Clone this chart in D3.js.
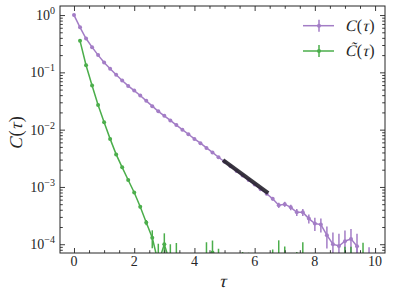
<!DOCTYPE html>
<html>
<head>
<meta charset="utf-8">
<script src="https://cdn.jsdelivr.net/npm/d3@7"></script>
<style>
  body { margin: 0; background: #fff; }
  svg { display: block; }
</style>
</head>
<body>
<svg id="chart" width="396" height="296"></svg>
<script>
// C(tau), sampled every 0.2
const tauC = [0, 0.2, 0.4, 0.6, 0.8, 1.0, 1.2, 1.4, 1.6, 1.8, 2.0, 2.2, 2.4, 2.6, 2.8, 3.0, 3.2, 3.4, 3.6, 3.8,
  4.0, 4.2, 4.4, 4.6, 4.8, 5.0, 5.2, 5.4, 5.6, 5.8, 6.0, 6.2, 6.4, 6.6, 6.8, 7.0, 7.2, 7.4, 7.6, 7.8,
  8.0, 8.2, 8.4, 8.6, 8.8, 9.0, 9.2, 9.4, 9.6, 9.8];
const valC = [1.0, 0.61, 0.39, 0.275, 0.20, 0.148, 0.116, 0.091, 0.072, 0.058, 0.048, 0.0395, 0.0318, 0.0257,
  0.0209, 0.0174, 0.0145, 0.0120, 0.0100, 0.0083, 0.0069, 0.0058, 0.0048, 0.0040, 0.0033, 0.00275, 0.00229,
  0.00190, 0.00158, 0.00132, 0.00110, 0.00091, 0.00076, 6.2e-4, 4.8e-4, 5.0e-4, 4.4e-4, 3.6e-4, 3.6e-4,
  2.8e-4, 2.3e-4, 2.2e-4, 1.44e-4, 1.0e-4, 9.3e-5, 1.13e-4, 1.24e-4, 9.2e-5, -1e-5, 2.9e-5];
const errC = [0.002, 0.003, 0.002, 0.002, 0.0015, 0.0012, 0.001, 0.0008, 0.0007, 0.0006, 0.0005, 0.0004,
  0.0003, 0.0003, 0.0002, 0.0002, 0.00015, 0.00012, 0.0001, 0.00009, 0.00008, 0.00007, 0.00006, 0.00005,
  0.00005, 0.00005, 0.00004, 0.00004, 0.00004, 0.00004, 0.00004, 0.00004, 0.00004, 0.00004, 0.00005,
  0.00005, 0.00005, 0.00005, 0.00005, 0.00005, 0.00006, 0.00006, 0.00006, 0.00006, 0.00006, 0.00006,
  0.00006, 0.00006, 0.00006, 0.00006];

// C~(tau)
const tauG = [0.2, 0.4, 0.6, 0.8, 1.0, 1.2, 1.4, 1.6, 1.8, 2.0, 2.2, 2.4, 2.6, 2.8, 3.0, 3.2, 3.4, 3.6, 3.8,
  4.0, 4.2, 4.4, 4.6, 4.8, 5.0, 5.2, 5.4, 5.6, 5.8, 6.0, 6.2, 6.4, 6.6, 6.8, 7.0, 7.2, 7.4, 7.6, 7.8,
  8.0, 8.2, 8.4, 8.6, 8.8, 9.0, 9.2, 9.4, 9.6, 9.8];
const valG = [0.355, 0.133, 0.059, 0.027, 0.0135, 0.0069, 0.0037, 0.0022, 0.00132, 8.0e-4, 4.5e-4, 2.4e-4,
  1.3e-4, 4.7e-5, 1.0e-4, 4.5e-5, 5.0e-5, -1e-5, -3e-5, -2e-5, 1e-5, 5.3e-5, 7.2e-5, 2.8e-5, -2e-5, -4e-5,
  -1e-5, 1.8e-5, 1.6e-5, -3e-5, -1e-5, -2e-5, 2.6e-5, 6.2e-5, 3.6e-5, -1e-5, 1.8e-5, 5.3e-5, -2e-5, -3e-5,
  -1e-5, -4e-5, -2e-5, -1e-5, 3.5e-5, 3.5e-5, -2e-5, 5.1e-5, -1e-5];
const errG = [0.006, 0.002, 0.0008, 0.0004, 0.0002, 0.0001, 0.00006, 0.00004, 0.00003, 0.00003, 0.00003,
  0.000025, 0.000045, 0.000055, 0.000055, 0.000055, 0.000055, 0.000055, 0.000055, 0.000055, 0.000055,
  0.000055, 0.000044, 0.000055, 0.000055, 0.000055, 0.000055, 0.000055, 0.000055, 0.000055, 0.000055,
  0.000055, 0.000055, 0.000055, 0.000055, 0.000055, 0.000055, 0.000055, 0.000055, 0.000055, 0.000055,
  0.000055, 0.000055, 0.000055, 0.000055, 0.000055, 0.000055, 0.000055, 0.000055];

// exponential fit segment
const fitTau = [4.95, 6.45];
const fitVal = [2.95e-3, 7.8e-4];

const xTicks = [0, 2, 4, 6, 8, 10];
const yTicks = [1e0, 1e-1, 1e-2, 1e-3, 1e-4];
const yExp = ['0', '\u22121', '\u22122', '\u22123', '\u22124'];

const purple = '#9467bd';
const green = '#2ca02c';
const ink = '#262626';
const serif = 'Liberation Serif';

const mLeft = 60, mRight = 385, mTop = 6, mBottom = 253;

const svg = d3.select('#chart');

const x = d3.scaleLinear()
  .domain([-0.465, 10.33])
  .range([mLeft, mRight]);

const y = d3.scaleLog()
  .domain([Math.pow(10, -4.153), Math.pow(10, 0.158)])
  .range([mBottom, mTop]);

// non-positive values drop far below the frame, like matplotlib's clip
const yv = v => v > 0 ? y(v) : mBottom + 5000;

svg.append('clipPath').attr('id', 'clip')
  .append('rect')
  .attr('x', mLeft).attr('y', mTop)
  .attr('width', mRight - mLeft).attr('height', mBottom - mTop);

const plot = svg.append('g').attr('clip-path', 'url(#clip)');

const line = d3.line()
  .x(d => x(d.t))
  .y(d => yv(d.v));

function series(taus, vals, errs, color) {
  const data = taus.map((t, i) => ({t: t, v: vals[i], e: errs[i]}));
  const g = plot.append('g').attr('opacity', 0.85);
  g.selectAll('line.err')
    .data(data)
    .join('line')
    .attr('class', 'err')
    .attr('x1', d => x(d.t)).attr('x2', d => x(d.t))
    .attr('y1', d => yv(d.v - d.e))
    .attr('y2', d => yv(d.v + d.e))
    .attr('stroke', color)
    .attr('stroke-width', 1.5);
  g.append('path')
    .datum(data)
    .attr('d', line)
    .attr('fill', 'none')
    .attr('stroke', color)
    .attr('stroke-width', 1.5);
  g.selectAll('circle')
    .data(data.filter(d => d.v > 0))
    .join('circle')
    .attr('cx', d => x(d.t))
    .attr('cy', d => y(d.v))
    .attr('r', 2)
    .attr('fill', color);
}

series(tauC, valC, errC, purple);
series(tauG, valG, errG, green);

plot.append('path')
  .datum(fitTau.map((t, i) => ({t: t, v: fitVal[i]})))
  .attr('d', line)
  .attr('fill', 'none')
  .attr('stroke', '#26222c')
  .attr('stroke-width', 4)
  .attr('opacity', 0.9);

// frame
svg.append('rect')
  .attr('x', mLeft).attr('y', mTop)
  .attr('width', mRight - mLeft).attr('height', mBottom - mTop)
  .attr('fill', 'none')
  .attr('stroke', ink)
  .attr('stroke-width', 1);

// ticks, all pointing inward
const xMinor = d3.range(0, 10.5, 0.5).filter(v => v % 2 !== 0);
const yMinor = y.ticks().filter(v => yTicks.indexOf(v) < 0);

function ticks(axis, minorVals, majorVals, transform, majorLen, minorLen) {
  svg.append('g').attr('transform', transform)
    .call(axis.tickValues(minorVals).tickSize(-minorLen).tickFormat(''))
    .call(g => g.select('.domain').remove());
  svg.append('g').attr('transform', transform)
    .call(axis.tickValues(majorVals).tickSize(-majorLen).tickFormat(''))
    .call(g => g.select('.domain').remove());
}

ticks(d3.axisBottom(x), xMinor, xTicks, `translate(0,${mBottom})`, 5, 2.8);
ticks(d3.axisTop(x), xMinor, xTicks, `translate(0,${mTop})`, 5, 2.8);
ticks(d3.axisLeft(y), yMinor, yTicks, `translate(${mLeft},0)`, 5, 2.8);
ticks(d3.axisRight(y), yMinor, yTicks, `translate(${mRight},0)`, 5, 2.8);
svg.selectAll('.tick line').attr('stroke', ink).attr('stroke-width', 0.9);

// tick labels
svg.append('g').selectAll('text')
  .data(xTicks)
  .join('text')
  .attr('x', d => x(d))
  .attr('y', 266)
  .attr('text-anchor', 'middle')
  .attr('font-family', serif)
  .attr('font-size', 14)
  .attr('fill', ink)
  .text(d => d);

const yl = svg.append('g').selectAll('text')
  .data(yTicks)
  .join('text')
  .attr('x', 55)
  .attr('y', d => y(d) + 5)
  .attr('text-anchor', 'end')
  .attr('font-family', serif)
  .attr('font-size', 14)
  .attr('fill', ink);
yl.append('tspan').text('10');
yl.append('tspan')
  .attr('dy', -6)
  .attr('font-size', 10)
  .text((d, i) => yExp[i]);

// math text: no serif italic is installed, so slant the upright glyphs
function mathText(parent, parts, size, anchor) {
  const g = parent.append('g');
  let cx = 0;
  parts.forEach(p => {
    const t = g.append('text')
      .attr('font-family', serif)
      .attr('font-size', size)
      .attr('fill', ink)
      .text(p.s);
    if (p.it) t.attr('transform', `translate(${cx},0) skewX(-14)`);
    else t.attr('x', cx);
    cx += t.node().getComputedTextLength() + (p.it ? size * 0.06 : 0);
  });
  if (anchor === 'middle') g.selectAll('text').each(function () {
    const el = d3.select(this);
    const tr = el.attr('transform');
    if (tr) el.attr('transform', `translate(${-cx / 2},0) ` + tr);
    else el.attr('x', +el.attr('x') - cx / 2);
  });
  return g;
}

const cTau = [{s: 'C', it: true}, {s: '(', it: false}, {s: 'τ', it: true}, {s: ')', it: false}];
const gTau = [{s: 'C\u0303', it: true}, {s: '(', it: false}, {s: 'τ', it: true}, {s: ')', it: false}];

// axis labels
const ylab = svg.append('g').attr('transform', 'translate(22,133) rotate(-90)');
mathText(ylab, cTau, 18, 'middle');

const xlab = svg.append('g').attr('transform', 'translate(223,287)');
mathText(xlab, [{s: 'τ', it: true}], 18, 'middle');

// legend
const legend = [
  {parts: cTau, color: purple, y: 25.7},
  {parts: gTau, color: green, y: 51}
];
legend.forEach(d => {
  const g = svg.append('g').attr('opacity', 0.85);
  g.append('line')
    .attr('x1', 303).attr('x2', 334)
    .attr('y1', d.y).attr('y2', d.y)
    .attr('stroke', d.color).attr('stroke-width', 1.5);
  g.append('line')
    .attr('x1', 319).attr('x2', 319)
    .attr('y1', d.y - 6).attr('y2', d.y + 6)
    .attr('stroke', d.color).attr('stroke-width', 1.5);
  g.append('circle')
    .attr('cx', 319).attr('cy', d.y).attr('r', 2)
    .attr('fill', d.color);
  const t = svg.append('g').attr('transform', `translate(345,${d.y + 5})`);
  mathText(t, d.parts, 16);
});
</script>
</body>
</html>
